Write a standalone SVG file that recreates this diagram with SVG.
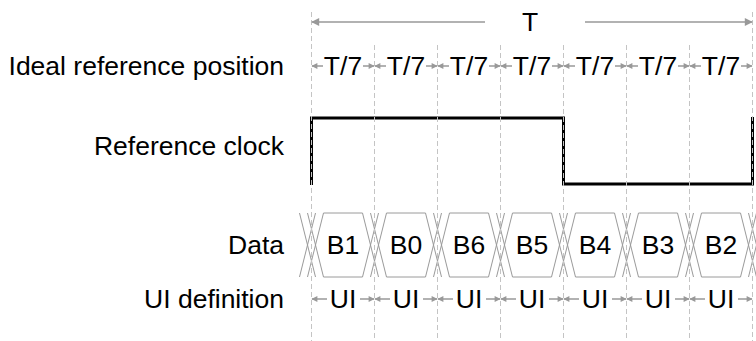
<svg xmlns="http://www.w3.org/2000/svg" width="756" height="341" viewBox="0 0 756 341">
<style>
text{font-family:"Liberation Sans",Arial,sans-serif;font-size:26.5px;fill:#000}
.lbl{text-anchor:end}
.c{text-anchor:middle}
.grid{stroke:#c4c4c4;stroke-width:1;stroke-dasharray:5 3;fill:none}
.arr{stroke:#999;stroke-width:1.5;fill:none}
.dat{stroke:#9a9a9a;stroke-width:1;fill:none}
.clk{stroke:#000;stroke-width:3;fill:none}
</style>
<defs>
<marker id="ah" viewBox="0 0 10 10" refX="9" refY="5" markerWidth="7" markerHeight="6" markerUnits="userSpaceOnUse" orient="auto-start-reverse"><path d="M0,0 L10,5 L0,10 Z" fill="#999"/></marker>
<marker id="ahL" viewBox="0 0 10 10" refX="9" refY="5" markerWidth="9" markerHeight="8" markerUnits="userSpaceOnUse" orient="auto-start-reverse"><path d="M0,0 L10,5 L0,10 Z" fill="#999"/></marker>
</defs>
<rect width="756" height="341" fill="#fff"/>

<g id="labels">
<text class="lbl" x="284" y="75">Ideal reference position</text>
<text class="lbl" x="284" y="155">Reference clock</text>
<text class="lbl" x="284" y="254">Data</text>
<text class="lbl" x="284" y="308">UI definition</text>
</g>

<g id="clock">
<path class="clk" d="M311.5,185 V118 H563.5 V184 H752.5 V117"/>
</g>

<g id="data">
<path class="dat" d="M323.5,213 H362.5 M323.5,277 H362.5 M386.5,213 H425.5 M386.5,277 H425.5 M449.5,213 H488.5 M449.5,277 H488.5 M512.5,213 H551.5 M512.5,277 H551.5 M575.5,213 H614.5 M575.5,277 H614.5 M638.5,213 H677.5 M638.5,277 H677.5 M701.5,213 H740.5 M701.5,277 H740.5"/>
<path class="dat" d="M299.5,213 L315.5,277 M315.5,213 L299.5,277 M307.5,213 L323.5,277 M323.5,213 L307.5,277
M362.5,213 L378.5,277 M378.5,213 L362.5,277 M370.5,213 L386.5,277 M386.5,213 L370.5,277
M425.5,213 L441.5,277 M441.5,213 L425.5,277 M433.5,213 L449.5,277 M449.5,213 L433.5,277
M488.5,213 L504.5,277 M504.5,213 L488.5,277 M496.5,213 L512.5,277 M512.5,213 L496.5,277
M551.5,213 L567.5,277 M567.5,213 L551.5,277 M559.5,213 L575.5,277 M575.5,213 L559.5,277
M614.5,213 L630.5,277 M630.5,213 L614.5,277 M622.5,213 L638.5,277 M638.5,213 L622.5,277
M677.5,213 L693.5,277 M693.5,213 L677.5,277 M685.5,213 L701.5,277 M701.5,213 L685.5,277
M740.5,213 L756.5,277 M756.5,213 L740.5,277 M748.5,213 L764.5,277 M764.5,213 L748.5,277"/>
<text class="c" x="343" y="254">B1</text>
<text class="c" x="406" y="254">B0</text>
<text class="c" x="469" y="254">B6</text>
<text class="c" x="532" y="254">B5</text>
<text class="c" x="595" y="254">B4</text>
<text class="c" x="658" y="254">B3</text>
<text class="c" x="721" y="254">B2</text>
</g>

<g id="grid">
<path class="grid" d="M311.5,12 V341 M752.5,12 V341 M374.5,45 V341 M437.5,45 V341 M500.5,45 V341 M563.5,45 V341 M626.5,45 V341 M689.5,45 V341"/>
</g>

<g id="connectors">
<g id="period">
<line class="arr" x1="485" y1="22" x2="312" y2="22" marker-end="url(#ahL)"/>
<line class="arr" x1="585" y1="22" x2="752" y2="22" marker-end="url(#ahL)"/>
</g>
<g id="t7">
<line class="arr" x1="323" y1="66" x2="312" y2="66" marker-end="url(#ah)"/><line class="arr" x1="363" y1="66" x2="374" y2="66" marker-end="url(#ah)"/>
<line class="arr" x1="386" y1="66" x2="375" y2="66" marker-end="url(#ah)"/><line class="arr" x1="426" y1="66" x2="437" y2="66" marker-end="url(#ah)"/>
<line class="arr" x1="449" y1="66" x2="438" y2="66" marker-end="url(#ah)"/><line class="arr" x1="489" y1="66" x2="500" y2="66" marker-end="url(#ah)"/>
<line class="arr" x1="512" y1="66" x2="501" y2="66" marker-end="url(#ah)"/><line class="arr" x1="552" y1="66" x2="563" y2="66" marker-end="url(#ah)"/>
<line class="arr" x1="575" y1="66" x2="564" y2="66" marker-end="url(#ah)"/><line class="arr" x1="615" y1="66" x2="626" y2="66" marker-end="url(#ah)"/>
<line class="arr" x1="638" y1="66" x2="627" y2="66" marker-end="url(#ah)"/><line class="arr" x1="678" y1="66" x2="689" y2="66" marker-end="url(#ah)"/>
<line class="arr" x1="701" y1="66" x2="690" y2="66" marker-end="url(#ah)"/><line class="arr" x1="741" y1="66" x2="752" y2="66" marker-end="url(#ah)"/>
</g>
<g id="ui">
<line class="arr" x1="327" y1="299" x2="312" y2="299" marker-end="url(#ah)"/><line class="arr" x1="360" y1="299" x2="374" y2="299" marker-end="url(#ah)"/>
<line class="arr" x1="390" y1="299" x2="375" y2="299" marker-end="url(#ah)"/><line class="arr" x1="423" y1="299" x2="437" y2="299" marker-end="url(#ah)"/>
<line class="arr" x1="453" y1="299" x2="438" y2="299" marker-end="url(#ah)"/><line class="arr" x1="486" y1="299" x2="500" y2="299" marker-end="url(#ah)"/>
<line class="arr" x1="516" y1="299" x2="501" y2="299" marker-end="url(#ah)"/><line class="arr" x1="549" y1="299" x2="563" y2="299" marker-end="url(#ah)"/>
<line class="arr" x1="579" y1="299" x2="564" y2="299" marker-end="url(#ah)"/><line class="arr" x1="612" y1="299" x2="626" y2="299" marker-end="url(#ah)"/>
<line class="arr" x1="642" y1="299" x2="627" y2="299" marker-end="url(#ah)"/><line class="arr" x1="675" y1="299" x2="689" y2="299" marker-end="url(#ah)"/>
<line class="arr" x1="705" y1="299" x2="690" y2="299" marker-end="url(#ah)"/><line class="arr" x1="738" y1="299" x2="752" y2="299" marker-end="url(#ah)"/>
</g>
</g>

<g id="period-label"><text class="c" x="530" y="31">T</text></g>
<g id="t7labels">
<text class="c" x="343" y="75">T/7</text>
<text class="c" x="406" y="75">T/7</text>
<text class="c" x="469" y="75">T/7</text>
<text class="c" x="532" y="75">T/7</text>
<text class="c" x="595" y="75">T/7</text>
<text class="c" x="658" y="75">T/7</text>
<text class="c" x="721" y="75">T/7</text>
</g>
<g id="uilabels">
<text class="c" x="343" y="308">UI</text>
<text class="c" x="406" y="308">UI</text>
<text class="c" x="469" y="308">UI</text>
<text class="c" x="532" y="308">UI</text>
<text class="c" x="595" y="308">UI</text>
<text class="c" x="658" y="308">UI</text>
<text class="c" x="721" y="308">UI</text>
</g>
</svg>
